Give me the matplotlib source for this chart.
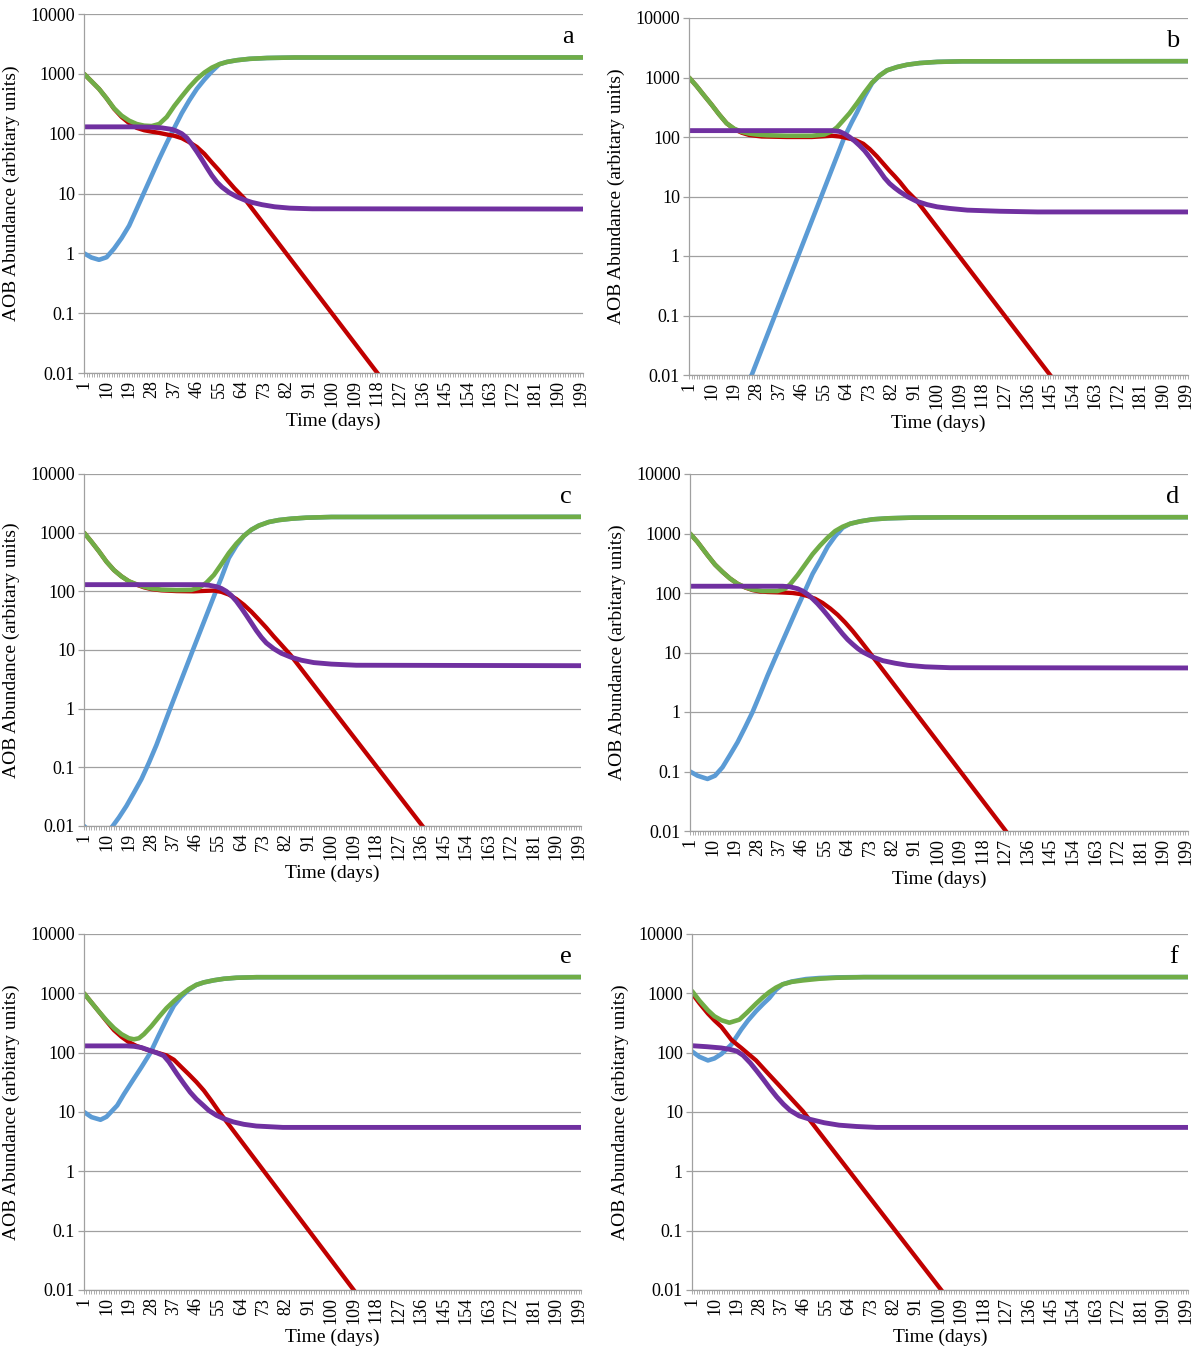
import matplotlib
matplotlib.use("Agg")
import matplotlib.pyplot as plt
from matplotlib.ticker import NullLocator

# (day, abundance) pairs
# panel a
a_blue = [(1, 1.0), (4, 0.85), (7, 0.78), (10, 0.86), (13, 1.2), (16, 1.8), (19, 2.9),
          (22, 5.5), (25, 10.5), (28, 20), (31, 38), (34, 70), (37, 125), (40, 220),
          (43, 360), (46, 560), (49, 800), (52, 1100), (55, 1450), (58, 1580), (62, 1690),
          (67, 1780), (74, 1840), (85, 1875), (200, 1880)]
a_red = [(1, 1000), (4, 750), (7, 560), (10, 390), (13, 260), (16, 190), (19, 150),
         (22, 125), (25, 114), (28, 108), (31, 103), (34, 97), (37, 92), (40, 84),
         (43, 72), (46, 60), (49, 46), (52, 33), (55, 24), (58, 17), (61, 12.2),
         (65, 8.2), (118, 0.01), (125, 0.0042)]
a_green = [(1, 1000), (4, 750), (7, 560), (10, 390), (13, 265), (16, 200), (19, 165),
           (22, 145), (25, 136), (28, 134), (31, 145), (34, 190), (37, 290), (40, 420),
           (43, 600), (46, 820), (49, 1050), (52, 1270), (55, 1450), (58, 1580),
           (62, 1690), (67, 1780), (74, 1840), (85, 1875), (200, 1880)]
a_purple = [(1, 130), (20, 130), (28, 128), (32, 125), (36, 118), (38, 110), (40, 100),
            (42, 85), (44, 66), (46, 50), (48, 37), (50, 27), (52, 20), (54, 15.5),
            (56, 12.8), (59, 10.3), (62, 8.8), (65, 7.8), (68, 7.1), (72, 6.5),
            (77, 6.0), (83, 5.7), (92, 5.55), (200, 5.5)]

# panel b
b_blue = [(1, 0.001), (8, 0.0008), (15, 0.0018), (20, 0.004), (26, 0.01), (44.5, 1),
          (63, 100), (66, 180), (68, 260), (71, 480), (74, 800), (77, 1080), (80, 1320),
          (84, 1500), (88, 1640), (93, 1750), (100, 1830), (110, 1870), (200, 1880)]
b_red = [(1, 1000), (4, 720), (7, 500), (10, 350), (13, 240), (16, 170), (19, 136),
         (22, 118), (25, 108), (30, 102), (40, 100), (50, 100), (55, 103), (58, 105),
         (61, 102), (64, 96), (67, 90), (70.5, 77), (73, 63), (76, 47), (78.5, 35.6),
         (81, 27), (83, 22), (85.1, 17.5), (88, 12.3), (91.8, 8.5), (145, 0.01),
         (150, 0.0053)]
b_green = [(1, 1000), (4, 720), (7, 500), (10, 350), (13, 240), (16, 170), (19, 138),
           (22, 122), (25, 114), (28, 110), (32, 107), (40, 105), (50, 105), (55, 110),
           (58, 125), (60, 145), (62, 180), (65, 250), (68, 370), (71, 560), (74, 820),
           (77, 1080), (80, 1320), (84, 1500), (88, 1640), (93, 1750), (100, 1830),
           (110, 1870), (200, 1880)]
b_purple = [(1, 128), (58, 128), (61, 124), (63, 113), (65, 100), (67, 86), (69, 72),
            (71, 59), (73, 46), (75, 35), (77, 27), (79, 20.5), (81, 16.5), (83, 14),
            (85, 12.1), (88, 10), (91.8, 8.3), (96, 7.3), (100, 6.7), (105, 6.3),
            (112, 5.9), (125, 5.65), (140, 5.5), (200, 5.5)]

# panel c
c_blue = [(1, 0.01), (4, 0.0075), (7, 0.0065), (10, 0.0075), (12.5, 0.01), (15, 0.014),
          (18, 0.022), (21, 0.037), (24, 0.063), (27, 0.12), (30, 0.24), (35.5, 1),
          (44.6, 10), (53.8, 100), (56, 170), (59, 370), (62, 600), (65, 880),
          (68, 1120), (71, 1320), (75, 1520), (79, 1640), (84, 1730), (90, 1800),
          (100, 1850), (200, 1860)]
c_red = [(1, 1000), (4, 700), (7, 480), (10, 320), (13, 230), (16, 180), (19, 148),
         (22, 130), (25, 117), (28, 109), (32, 104), (38, 101), (45, 100), (50, 102),
         (53, 103), (56, 98), (59, 88), (62, 74), (65, 59), (68, 45), (71, 33), (74, 24),
         (77, 17), (80, 12.3), (83.7, 8.2), (136.5, 0.01), (142, 0.005)]
c_green = [(1, 1000), (4, 700), (7, 480), (10, 320), (13, 230), (16, 180), (19, 148),
           (22, 132), (25, 120), (28, 112), (32, 107), (38, 105), (44, 106), (47, 115),
           (50, 140), (53, 190), (56, 290), (59, 450), (62, 650), (65, 880), (68, 1120),
           (71, 1320), (75, 1520), (79, 1640), (84, 1730), (90, 1800), (100, 1850),
           (200, 1860)]
c_purple = [(1, 130), (48, 130), (51, 127), (54, 120), (56, 112), (58, 100), (60, 85),
            (62, 68), (64, 52), (66, 39), (68, 29), (70, 21.5), (72, 16.5), (74, 13.2),
            (77, 10.5), (80, 8.8), (84, 7.5), (88, 6.7), (93, 6.1), (100, 5.75),
            (110, 5.5), (200, 5.4)]

# panel d
d_blue = [(1, 0.1), (4, 0.085), (8, 0.075), (11, 0.085), (14, 0.118), (17, 0.19),
          (20, 0.31), (23, 0.55), (26, 1), (29, 2), (32, 4.1), (35, 8), (38, 15.5),
          (41, 30), (44, 58), (47, 110), (50, 210), (53, 350), (56, 600), (59, 900),
          (62, 1250), (65, 1460), (69, 1600), (74, 1730), (80, 1800), (90, 1850),
          (105, 1870), (200, 1880)]
d_red = [(1, 1000), (4, 720), (8, 432), (11, 300), (14, 226), (17, 175), (20, 143),
         (23, 124), (26, 112), (29, 106), (32, 104), (38, 102), (42, 100), (45, 96),
         (48, 89), (51, 80), (54, 68), (57, 55), (60, 43), (63, 32), (66, 23), (69, 16),
         (72, 11), (74.5, 8), (127.2, 0.01), (133, 0.0045)]
d_green = [(1, 1000), (4, 720), (8, 432), (11, 300), (14, 226), (17, 175), (20, 143),
           (23, 125), (26, 114), (30, 108), (36, 108), (39, 118), (41, 140), (44, 200),
           (47, 300), (50, 450), (53, 630), (56, 850), (59, 1100), (62, 1300),
           (65, 1460), (69, 1600), (74, 1730), (80, 1800), (90, 1850), (105, 1870),
           (200, 1880)]
d_purple = [(1, 130), (38, 130), (41, 127), (44, 118), (46, 108), (48, 95), (50, 80),
            (52, 66), (54, 53), (56, 42), (58, 33), (60, 26), (62, 20.5), (64, 16.5),
            (66, 13.8), (68, 11.7), (70, 10.2), (74, 8.4), (78, 7.3), (83, 6.6),
            (88, 6.1), (95, 5.75), (105, 5.55), (200, 5.5)]

# panel e
e_blue = [(1, 10), (4, 8.2), (7.6, 7.4), (10, 8.3), (14.3, 12.9), (17, 20), (20.9, 36),
          (24, 57), (27.6, 100), (31, 200), (34, 360), (37, 620), (40, 880), (43, 1150),
          (46, 1390), (49, 1530), (53, 1660), (57, 1760), (62, 1830), (70, 1870),
          (200, 1880)]
e_red = [(1, 1000), (4, 700), (7, 490), (10, 340), (13, 240), (16, 185), (19, 150),
         (22, 130), (25, 117), (28, 106), (31, 98), (34, 90), (37, 76), (40, 57),
         (43, 43), (46, 32), (49, 23), (52, 15.5), (55, 10.2), (109, 0.01),
         (115, 0.0046)]
e_green = [(1, 1000), (4, 700), (7, 490), (10, 350), (13, 260), (16, 205), (19, 175),
           (21, 168), (23, 175), (25, 205), (28, 280), (31, 400), (34, 560), (37, 740),
           (40, 950), (43, 1180), (46, 1390), (49, 1530), (53, 1660), (57, 1760),
           (62, 1830), (70, 1870), (200, 1880)]
e_purple = [(1, 130), (18, 130), (21, 128), (24, 122), (27.6, 108), (30, 100),
            (32.9, 89), (35, 70), (38.2, 44), (41, 30), (43.5, 21.6), (46, 16.5),
            (48.8, 12.9), (51, 10.6), (54, 8.8), (57, 7.7), (60.8, 6.8), (65, 6.2),
            (70, 5.8), (80.6, 5.5), (200, 5.5)]

# panel f
f_blue = [(1, 105), (4, 85), (7.4, 74), (10, 80), (12.8, 95), (16.8, 137), (20.8, 247),
          (23.5, 350), (26.7, 500), (29.5, 660), (32, 830), (34.7, 1150), (37.4, 1420),
          (41, 1580), (46.7, 1740), (52, 1810), (60, 1860), (70, 1880), (200, 1880)]
f_red = [(1, 1000), (4, 680), (7.4, 455), (10, 350), (12.8, 272), (16.8, 165),
         (19, 138), (20.8, 120), (23, 100), (26.7, 74), (31, 47), (36, 28), (41, 16.5),
         (45.5, 10.3), (101, 0.01), (107, 0.0047)]
f_green = [(1, 1094), (4, 750), (7.4, 518), (10, 410), (12.8, 352), (16, 320),
           (20, 360), (23, 470), (26.7, 670), (29.5, 860), (32, 1050), (34.7, 1250),
           (37.4, 1420), (41, 1560), (45.4, 1650), (52, 1760), (58.8, 1830), (70, 1875),
           (200, 1880)]
f_purple = [(1, 131), (7, 126), (12.8, 120), (16, 114), (19, 106), (21.5, 90),
            (24.4, 67), (27, 49), (29.7, 35), (32.3, 25), (35, 18), (37.7, 13.5),
            (40.4, 10.6), (44, 8.6), (48.5, 7.5), (54, 6.6), (60, 6.0), (67, 5.7),
            (75, 5.5), (200, 5.5)]

panel_letters = ["a", "b", "c", "d", "e", "f"]
y_ticks = [0.01, 0.1, 1, 10, 100, 1000, 10000]
y_tick_labels = ["0.01", "0.1", "1", "10", "100", "1000", "10000"]
x_tick_days = list(range(1, 200, 9))

panels = [
    (a_blue, a_red, a_green, a_purple),
    (b_blue, b_red, b_green, b_purple),
    (c_blue, c_red, c_green, c_purple),
    (d_blue, d_red, d_green, d_purple),
    (e_blue, e_red, e_green, e_purple),
    (f_blue, f_red, f_green, f_purple),
]

# plot-area boxes in pixels: left, right, top, bottom
boxes = [
    (84, 583, 14, 373), (689, 1188, 18, 375),
    (84, 581, 474, 826), (690, 1188, 474, 831),
    (84, 581, 934, 1290), (692, 1188, 934, 1290),
]

colors = {"blue": "#5B9BD5", "red": "#C00000", "green": "#70AD47", "purple": "#7030A0"}
grid_gray = "#a0a0a0"

plt.rcParams["font.family"] = ["Liberation Serif", "DejaVu Serif"]

W, H = 1194, 1356
fig = plt.figure(figsize=(W / 100, H / 100), dpi=100)


def draw_series(ax, pts, color, lw=3.3):
    days = [p[0] for p in pts]
    vals = [p[1] for p in pts]
    ax.plot(days, vals, color=color, lw=lw, solid_capstyle="round",
            solid_joinstyle="round")


for letter, series, (l, r, t, b) in zip(panel_letters, panels, boxes):
    ax = fig.add_axes([l / W, 1 - b / H, (r - l) / W, (b - t) / H])
    blue, red, green, purple = series

    draw_series(ax, blue, colors["blue"])
    draw_series(ax, red, colors["red"], lw=3.1)
    draw_series(ax, green, colors["green"])
    draw_series(ax, purple, colors["purple"], lw=3.5)

    ax.set_yscale("log")
    ax.set_ylim(0.01, 10000)
    ax.set_xlim(1, 200)

    ax.set_yticks(y_ticks)
    ax.set_yticklabels(y_tick_labels)
    ax.yaxis.set_minor_locator(NullLocator())
    ax.set_xticks(x_tick_days)
    ax.set_xticklabels([str(d) for d in x_tick_days], rotation=90)
    ax.set_xticks(range(1, 201), minor=True)

    ax.grid(axis="y", color=grid_gray, lw=0.9)
    ax.set_axisbelow(True)
    for side in ["top", "right"]:
        ax.spines[side].set_visible(False)
    for side in ["left", "bottom"]:
        ax.spines[side].set_color(grid_gray)
        ax.spines[side].set_linewidth(0.9)

    ax.tick_params(axis="y", which="major", length=4.5, width=0.9, color=grid_gray,
                   labelsize=13, pad=2)
    ax.tick_params(axis="x", which="both", length=3, width=0.6, color=grid_gray,
                   labelsize=13, pad=2)

    ax.set_ylabel("AOB Abundance (arbitary units)", fontsize=14)
    ax.yaxis.set_label_coords(-0.128, 0.5)
    ax.set_xlabel("Time (days)", fontsize=14)
    ax.xaxis.set_label_coords(0.5, -0.11)

    ax.text(0.97, 0.935, letter, transform=ax.transAxes, fontsize=19,
            ha="center", va="center")

fig.savefig("out.png", dpi=100)
